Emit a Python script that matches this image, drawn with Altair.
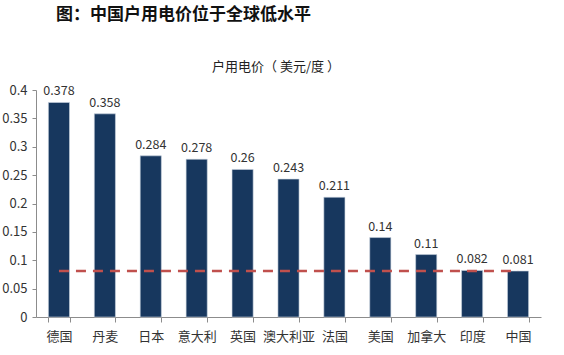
import altair as alt
import pandas as pd

countries = ["德国", "丹麦", "日本", "意大利", "英国", "澳大利亚", "法国", "美国", "加拿大", "印度", "中国"]
prices = [0.378, 0.358, 0.284, 0.278, 0.26, 0.243, 0.211, 0.14, 0.11, 0.082, 0.081]
china_ref = 0.081
y_ticks = [0, 0.05, 0.1, 0.15, 0.2, 0.25, 0.3, 0.35, 0.4]

df = pd.DataFrame({"country": countries, "price": prices})
df["ref"] = china_ref

FONT = "Noto Sans CJK SC"

x_scale = alt.Scale(paddingInner=0.54, paddingOuter=0.27)
y_scale = alt.Scale(domain=[0, 0.4], nice=False)

x_axis = alt.Axis(labelAngle=0, labelFontSize=13, labelColor="#333333",
                  labelPadding=8, tickBand="extent", tickSize=5, grid=False,
                  domainColor="#8c8c8c", tickColor="#8c8c8c", labelFont=FONT)
y_axis = alt.Axis(values=y_ticks, format="~g", labelFontSize=13, labelColor="#333333",
                  tickSize=4, labelPadding=5, grid=False, domainColor="#8c8c8c",
                  tickColor="#8c8c8c", labelFont=FONT, labelOverlap=False)

x_enc = alt.X("country:N", sort=countries, title=None, scale=x_scale, axis=x_axis)

def y_enc(field):
    return alt.Y(field, scale=y_scale, title=None, axis=y_axis)

base = alt.Chart(df)

bars = base.mark_bar(color="#17375E", stroke="#c9d3df", strokeWidth=0.6).encode(
    x=x_enc,
    y=y_enc("price:Q"),
)

labels = base.mark_text(dy=-11, fontSize=12.5, color="#333333", font=FONT).encode(
    x=x_enc,
    y=y_enc("price:Q"),
    text=alt.Text("price:Q", format="~g"),
)

ref_line = base.mark_line(color="#C0504D", strokeWidth=2.5, strokeDash=[10, 7]).encode(
    x=x_enc,
    y=y_enc("ref:Q"),
)

title_txt = alt.Chart(pd.DataFrame({"t": ["图：中国户用电价位于全球低水平"]})).mark_text(
    fontSize=17, fontWeight="bold", font=FONT, color="#111111", align="left", baseline="middle"
).encode(x=alt.value(20), y=alt.value(-75), text="t:N")

sub_txt = alt.Chart(pd.DataFrame({"t": ["户用电价（ 美元/度 ）"]})).mark_text(
    fontSize=13, font=FONT, color="#222222", align="center", baseline="middle"
).encode(x=alt.value(240), y=alt.value(-23), text="t:N")

chart = alt.layer(bars, ref_line, labels, title_txt, sub_txt).properties(
    width=505, height=227,
    background="white",
    autosize=alt.AutoSizeParams(type="none"),
    padding={"left": 36, "top": 90, "right": 23, "bottom": 38},
).configure_view(strokeWidth=0, stroke="transparent")

chart.save("out.html", embed_options={"renderer": "svg", "actions": False})
